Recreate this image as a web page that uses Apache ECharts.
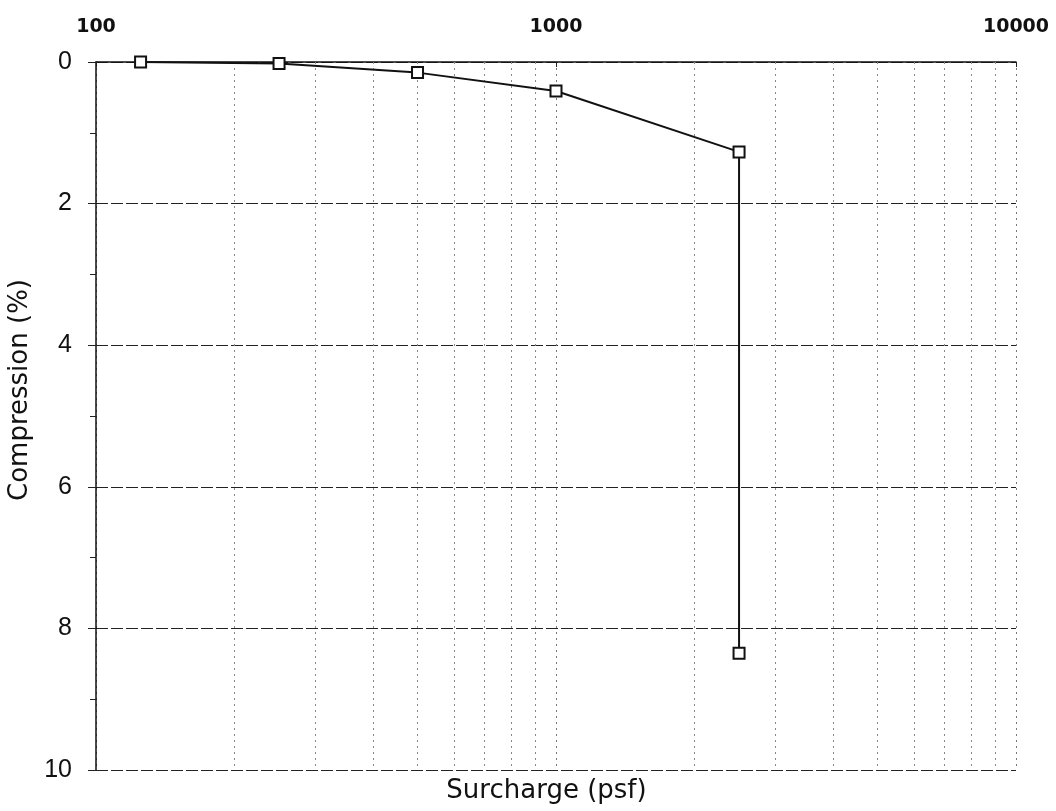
<!DOCTYPE html>
<html>
<head>
<meta charset="utf-8">
<script src="https://cdn.jsdelivr.net/npm/echarts@6/dist/echarts.min.js"></script>
<style>
html,body{margin:0;padding:0;background:#fff;}
#chart{width:1056px;height:811px;}
</style>
</head>
<body>
<div id="chart"></div>
<script>
// Data
var surcharge = [125, 250, 500, 1000, 2500, 2500];
var compression = [0.0, 0.02, 0.15, 0.41, 1.27, 8.35];
var xTickLabels = [100, 1000, 10000];
var minorGridX = [200, 300, 400, 500, 600, 700, 800, 900, 2000, 3000, 4000, 5000, 6000, 7000, 8000, 9000];
var xTitle = 'Surcharge (psf)';
var yTitle = 'Compression (%)';

var points = surcharge.map(function (x, i) { return [x, compression[i]]; });

var chart = echarts.init(document.getElementById('chart'), null, {renderer: 'canvas'});
chart.setOption({
  animation: false,
  backgroundColor: '#ffffff',
  grid: {left: 96, right: 40, top: 62, bottom: 41, containLabel: false, outerBoundsMode: 'none'},
  xAxis: [{
    type: 'log',
    logBase: 10,
    min: 100,
    max: 10000,
    position: 'top',
    axisLine: {show: true, lineStyle: {color: '#111', width: 1.5}},
    axisTick: {show: true, inside: true, length: 5, lineStyle: {color: '#222'}},
    axisLabel: {
      margin: 25,
      fontFamily: 'DejaVu Sans',
      fontWeight: 'bold',
      fontSize: 19,
      color: '#111',
      formatter: function (v) { return xTickLabels.indexOf(Math.round(v)) >= 0 ? String(Math.round(v)) : ''; }
    },
    splitLine: {show: true, lineStyle: {color: '#777', type: [2, 4], width: 1}}
  }, {
    type: 'log',
    logBase: 10,
    min: 100,
    max: 10000,
    position: 'bottom',
    axisLine: {show: false},
    axisTick: {show: false},
    axisLabel: {show: false},
    splitLine: {show: false},
    name: xTitle,
    nameLocation: 'middle',
    nameGap: 8,
    nameTextStyle: {fontFamily: 'DejaVu Sans', fontSize: 26, color: '#111', padding: [0, 19, 0, 0]}
  }],
  yAxis: {
    type: 'value',
    inverse: true,
    min: 0,
    max: 10,
    interval: 2,
    axisLine: {show: true, lineStyle: {color: '#111', width: 1.5}},
    axisTick: {show: true, inside: false, length: 8, lineStyle: {color: '#222'}},
    minorTick: {show: true, splitNumber: 2, length: 6, lineStyle: {color: '#222'}},
    axisLabel: {margin: 24, fontFamily: 'Liberation Sans', fontSize: 25, color: '#111'},
    splitLine: {show: true, lineStyle: {color: '#222', type: [12, 3], width: 1.2}},
    name: yTitle,
    nameLocation: 'middle',
    nameGap: 54,
    nameRotate: 90,
    nameTextStyle: {fontFamily: 'DejaVu Sans', fontSize: 26, color: '#111', padding: [0, 0, 0, 52]}
  },
  series: [{
    type: 'line',
    xAxisIndex: 0,
    data: points,
    symbol: 'rect',
    symbolSize: 11,
    showSymbol: true,
    lineStyle: {color: '#111', width: 2},
    itemStyle: {color: '#fff', borderColor: '#111', borderWidth: 2},
    markLine: {
      silent: true,
      symbol: ['none', 'none'],
      label: {show: false},
      lineStyle: {color: '#888', type: [2, 4], width: 1},
      data: minorGridX.map(function (v) { return {xAxis: v}; })
    },
    z: 5
  }]
});
</script>
</body>
</html>
